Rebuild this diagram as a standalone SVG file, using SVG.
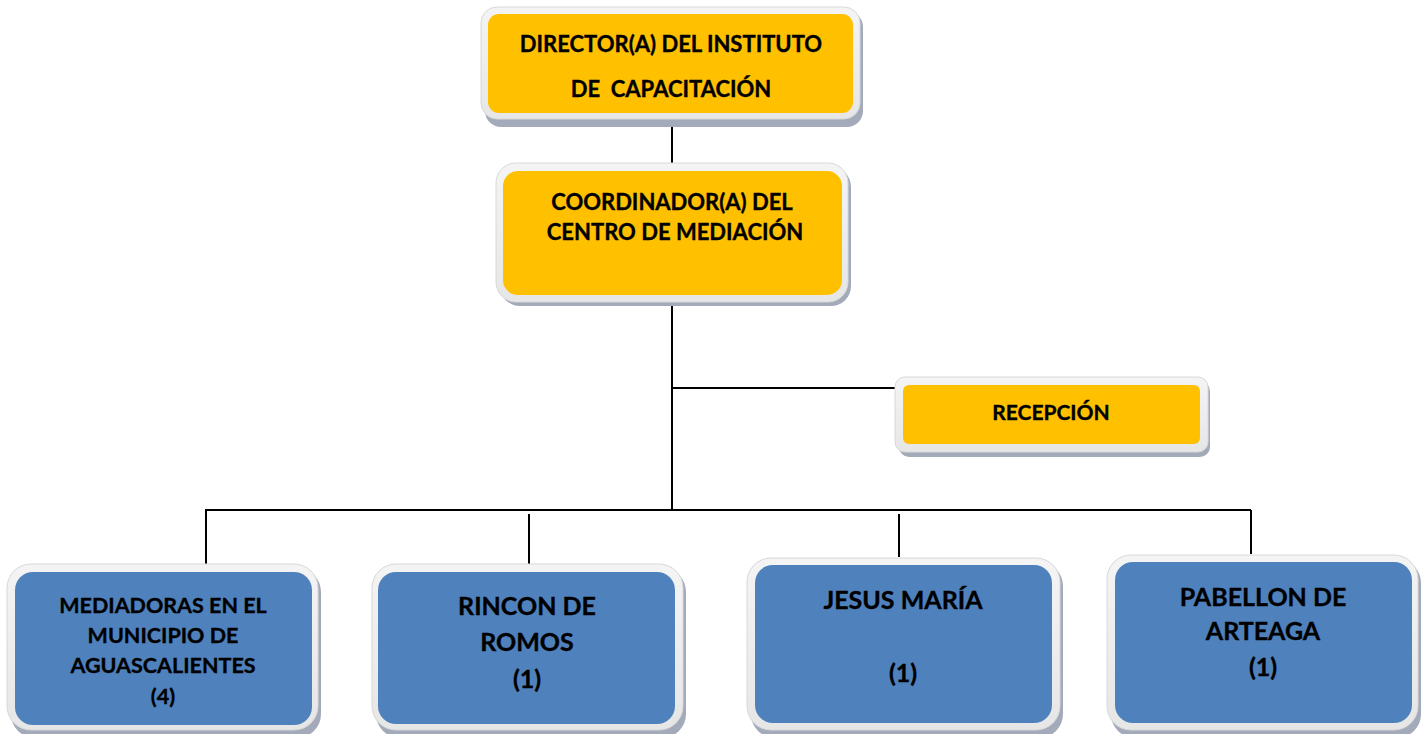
<svg xmlns="http://www.w3.org/2000/svg" width="1426" height="734" viewBox="0 0 1426 734">
<defs>
<linearGradient id="frame" x1="0" y1="0" x2="0" y2="1">
<stop offset="0" stop-color="#f4f4f4"/>
<stop offset="1" stop-color="#e6e6e6"/>
</linearGradient>
</defs>
<style>
.shadow{fill:#a3abba}
.frame{fill:url(#frame);stroke:#d8d8d8;stroke-width:1}
.orange{fill:#FFC000}
.blue{fill:#4F81BD}
.t{font-family:Lato,"Liberation Sans",sans-serif;font-weight:700;fill:#000;stroke:#000;stroke-width:0.35;text-anchor:middle}
.conn{stroke:#000;stroke-width:2;fill:none}
</style>
<rect width="1426" height="734" fill="#fff"/>
<g id="connectors">
<line class="conn" x1="672" y1="118" x2="672" y2="165"/>
<line class="conn" x1="672" y1="300" x2="672" y2="510"/>
<line class="conn" x1="672" y1="388" x2="898" y2="388"/>
<line class="conn" x1="205" y1="510" x2="1251" y2="510"/>
<line class="conn" x1="206" y1="510" x2="206" y2="572"/>
<line class="conn" x1="529" y1="514" x2="529" y2="564"/>
<line class="conn" x1="899" y1="514" x2="899" y2="557"/>
<line class="conn" x1="1251" y1="510" x2="1251" y2="554"/>
</g>
<g id="director">
<rect class="shadow" x="485" y="11" width="378" height="116" rx="16"/>
<rect class="frame" x="481" y="7" width="379" height="112" rx="16"/>
<rect class="orange" x="488" y="14" width="365" height="99" rx="11"/>
<text class="t" x="671" y="52" font-size="22">DIRECTOR(A) DEL INSTITUTO</text>
<text class="t" x="671" y="97" font-size="22" xml:space="preserve">DE  CAPACITACIÓN</text>
</g>
<g id="coordinador">
<rect class="shadow" x="500" y="167" width="351" height="139" rx="20"/>
<rect class="frame" x="496" y="163" width="352" height="139" rx="20"/>
<rect class="orange" x="503" y="171" width="339" height="124" rx="15"/>
<text class="t" x="672" y="210" font-size="22">COORDINADOR(A) DEL</text>
<text class="t" x="675" y="240" font-size="22">CENTRO DE MEDIACIÓN</text>
</g>
<g id="recepcion">
<rect class="shadow" x="899" y="381" width="311" height="76" rx="10"/>
<rect class="frame" x="895" y="377" width="313" height="75" rx="10"/>
<rect class="orange" x="903" y="385" width="297" height="59" rx="6"/>
<text class="t" x="1051" y="420" font-size="21">RECEPCIÓN</text>
</g>
<g id="mediadoras">
<rect class="shadow" x="11" y="568" width="310" height="170" rx="24"/>
<rect class="frame" x="7" y="564" width="311" height="166" rx="24"/>
<rect class="blue" x="15" y="572" width="297" height="153" rx="18"/>
<text class="t" x="163" y="613" font-size="21.5">MEDIADORAS EN EL</text>
<text class="t" x="163" y="643" font-size="21.5">MUNICIPIO DE</text>
<text class="t" x="163" y="673" font-size="21.5">AGUASCALIENTES</text>
<text class="t" x="163" y="704" font-size="21.5">(4)</text>
</g>
<g id="rincon">
<rect class="shadow" x="376" y="568" width="310" height="170" rx="24"/>
<rect class="frame" x="372" y="564" width="311" height="166" rx="24"/>
<rect class="blue" x="378" y="572" width="297" height="152" rx="18"/>
<text class="t" x="527" y="615" font-size="25">RINCON DE</text>
<text class="t" x="527" y="651" font-size="25">ROMOS</text>
<text class="t" x="527" y="688" font-size="25">(1)</text>
</g>
<g id="jesus">
<rect class="shadow" x="751" y="562" width="312" height="176" rx="24"/>
<rect class="frame" x="747" y="558" width="313" height="172" rx="24"/>
<rect class="blue" x="755" y="565" width="297" height="158" rx="18"/>
<text class="t" x="903" y="609" font-size="25">JESUS MARÍA</text>
<text class="t" x="903" y="682" font-size="25">(1)</text>
</g>
<g id="pabellon">
<rect class="shadow" x="1111" y="559" width="310" height="179" rx="24"/>
<rect class="frame" x="1107" y="555" width="311" height="175" rx="24"/>
<rect class="blue" x="1115" y="562" width="297" height="161" rx="18"/>
<text class="t" x="1263" y="606" font-size="25">PABELLON DE</text>
<text class="t" x="1263" y="640" font-size="25">ARTEAGA</text>
<text class="t" x="1263" y="676" font-size="25">(1)</text>
</g>
</svg>
